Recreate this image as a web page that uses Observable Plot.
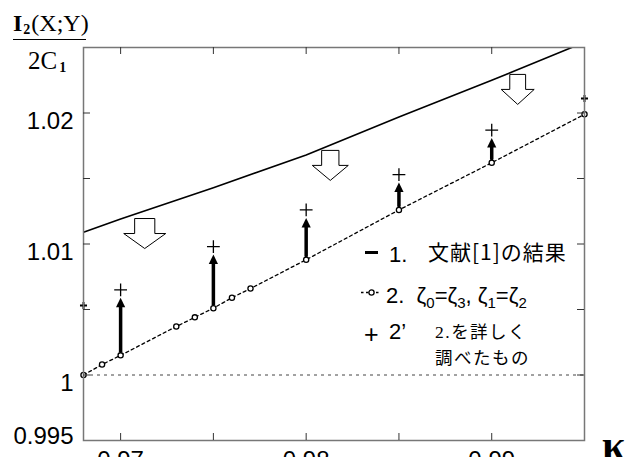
<!DOCTYPE html>
<html><head><meta charset="utf-8">
<script src="https://cdn.jsdelivr.net/npm/d3@7"></script>
<script src="https://cdn.jsdelivr.net/npm/@observablehq/plot@0.6"></script>
<style>
html,body{margin:0;padding:0;background:#fff;overflow:hidden}
#wrap{position:relative;width:628px;height:457px;overflow:hidden}
#wrap svg{position:absolute;left:0;top:0}
.abs{position:absolute;white-space:nowrap;line-height:1}
.sans{font-family:'Liberation Sans',Arial,sans-serif}
.serif{font-family:'Liberation Serif','Times New Roman',serif}
.cjk{font-family:'Noto Sans CJK JP',sans-serif}
</style></head><body><div id="wrap"></div>
<script>
// Series 1: result of reference [1] (solid line)
const refX = [0.968, 0.970, 0.975, 0.980, 0.985, 0.990, 0.995];
const refY = [1.0109, 1.0119, 1.0143, 1.0168, 1.0197, 1.0225, 1.0254];
// Series 2: zeta0=zeta3, zeta1=zeta2 (dotted line with circles)
const eqX = [0.968, 0.969, 0.970, 0.973, 0.974, 0.975, 0.976, 0.977, 0.980, 0.985, 0.990, 0.995];
const eqY = [1.0000, 1.0008, 1.0015, 1.0037, 1.0044, 1.0051, 1.0059, 1.0066, 1.0088, 1.0126, 1.0162, 1.0199];
// Series 2': detailed study (plus marks)
const plusX = [0.968, 0.970, 0.975, 0.980, 0.985, 0.990, 0.995];
const plusY = [1.0053, 1.0065, 1.0098, 1.0126, 1.0153, 1.0187, 1.0211];
// Improvement arrows from series 2 to series 2'
const gainX = [0.970, 0.975, 0.980, 0.985, 0.990];
const gainFrom = [1.0015, 1.0051, 1.0088, 1.0126, 1.0162];
const gainTo = [1.0065, 1.0098, 1.0126, 1.0153, 1.0187];
// Hollow "down" arrows below the series 1 line
const hintX = [0.9713, 0.9813, 0.9914];
const hintY = [1.0108, 1.0160, 1.0218];
const hintR = [21, 18, 16.5];
// Ticks and labels
const xTicks = [0.970, 0.975, 0.980, 0.985, 0.990];
const yTicks = [1.000, 1.005, 1.010, 1.015, 1.020];
const xLabels = [0.97, 0.98, 0.99];
const yLabels = [1, 1.01, 1.02];
const yLabelLow = [0.995];

const ref = refX.map((x, i) => ({x, y: refY[i]}));
const eq = eqX.map((x, i) => ({x, y: eqY[i]}));
const plus = plusX.map((x, i) => ({x, y: plusY[i]}));
const gain = gainX.map((x, i) => ({x, from: gainFrom[i], to: gainTo[i]}));
const hints = hintX.map((x, i) => ({x, y: hintY[i], r: hintR[i]}));

const headSym = {draw(ctx) { ctx.moveTo(0, 0); ctx.lineTo(-4.6, 9.5); ctx.lineTo(4.6, 9.5); ctx.closePath(); }};
const hollowArrow = {draw(ctx, size) {
  const r = Math.sqrt(size / Math.PI), sw = r * 0.48;
  ctx.moveTo(-sw, -15); ctx.lineTo(sw, -15); ctx.lineTo(sw, 0); ctx.lineTo(r, 0);
  ctx.lineTo(0, 15); ctx.lineTo(-r, 0); ctx.lineTo(-sw, 0); ctx.closePath();
}};

const W = 628, H = 457, ML = 83, MR = 44, MT = 47, MB = 17;
const fw = W - ML - MR, fh = H - MT - MB, tk = 7;
const font = "'Liberation Sans', Arial, sans-serif";

const plot = Plot.plot({
  width: W, height: H,
  marginLeft: ML, marginRight: MR, marginTop: MT, marginBottom: MB,
  x: {domain: [0.968, 0.995], axis: null},
  y: {domain: [0.995, 1.025], axis: null},
  style: {fontFamily: font, background: "transparent", overflow: "visible"},
  marks: [
    Plot.ruleY([1], {stroke: "#444", strokeDasharray: "3,4", strokeWidth: 1}),
    Plot.line(ref, {x: "x", y: "y", stroke: "black", strokeWidth: 1.6, clip: true}),
    Plot.line(eq, {x: "x", y: "y", stroke: "black", strokeWidth: 1.3, strokeDasharray: "3,3"}),
    Plot.dot(eq, {x: "x", y: "y", r: 2.6, stroke: "black", fill: "white", strokeWidth: 1.3}),
    Plot.arrow(gain, {x1: "x", x2: "x", y1: "from", y2: "to", headLength: 0, insetStart: 4, insetEnd: 16, strokeWidth: 3.5, stroke: "black"}),
    Plot.dot(gain, {x: "x", y: "to", symbol: headSym, fill: "black", stroke: "none", dy: 8}),
    Plot.dot(plus, {filter: d => d.x > 0.968 && d.x < 0.995, x: "x", y: "y", symbol: "plus", r: 4.2, stroke: "black", strokeWidth: 1.3}),
    Plot.dot(plus, {filter: d => d.x <= 0.968 || d.x >= 0.995, x: "x", y: "y", symbol: "plus", r: 2.4, stroke: "black", strokeWidth: 2}),
    ...hints.map(h => Plot.dot([h], {x: "x", y: "y", r: h.r, symbol: hollowArrow, fill: "white", stroke: "black", strokeWidth: 1})),
    Plot.frame({stroke: "#777", strokeWidth: 1.5}),
    Plot.tickX(xTicks, {x: d => d, insetTop: fh - tk, stroke: "#333"}),
    Plot.tickX(xTicks, {x: d => d, insetBottom: fh - tk, stroke: "#333"}),
    Plot.tickY(yTicks, {y: d => d, insetRight: fw - tk, stroke: "#333"}),
    Plot.tickY(yTicks, {y: d => d, insetLeft: fw - tk, stroke: "#333"}),
    Plot.text(xLabels, {x: d => d, text: d => String(d), frameAnchor: "bottom", lineAnchor: "top", dy: 10, fontSize: 24, fill: "black"}),
    Plot.text(yLabels, {y: d => d, text: d => String(d), frameAnchor: "left", textAnchor: "end", lineAnchor: "top", dx: -10, dy: -1, fontSize: 24, fill: "black"}),
    Plot.text(yLabelLow, {y: d => d, text: d => String(d), frameAnchor: "left", textAnchor: "end", lineAnchor: "bottom", dx: -10, dy: 3.5, fontSize: 24, fill: "black"})
  ]
});

const wrap = document.getElementById("wrap");
wrap.appendChild(plot);

const overlay = document.createElement("div");
overlay.innerHTML = `
<div class="abs serif" style="left:13px;top:11px;font-size:24px;"><b>I</b><b style="font-size:14px;position:relative;top:3px;margin:0 1px">2</b>(X;Y)</div>
<div class="abs" style="left:13px;top:38.5px;width:73px;height:0;border-top:1.6px solid black;"></div>
<div class="abs serif" style="left:28px;top:48px;font-size:25px;">2C<b style="font-size:14px;position:relative;top:3px;margin-left:2px">1</b></div>
<div class="abs serif" style="left:602px;top:424px;font-size:42px;font-weight:bold;">κ</div>

<div class="abs" style="left:365px;top:250.5px;width:13px;height:3px;background:black;"></div>
<div class="abs sans" style="left:389px;top:244px;font-size:22px;">1.</div>
<div class="abs cjk" style="left:428px;top:241px;font-size:21px;letter-spacing:1px;">文献[1]の結果</div>

<svg class="abs" style="left:360px;top:286px;overflow:visible" width="22" height="14">
  <line x1="1" y1="6.5" x2="21" y2="6.5" stroke="black" stroke-width="1.3" stroke-dasharray="2.5,2.5"/>
  <circle cx="11.5" cy="6.5" r="2.6" fill="white" stroke="black" stroke-width="1.3"/>
</svg>
<div class="abs sans" style="left:386px;top:285px;font-size:22px;">2.&nbsp;&nbsp;ζ<span style="font-size:15px;position:relative;top:5px">0</span>=ζ<span style="font-size:15px;position:relative;top:5px">3</span>, ζ<span style="font-size:15px;position:relative;top:5px">1</span>=ζ<span style="font-size:15px;position:relative;top:5px">2</span></div>

<div class="abs sans" style="left:364px;top:322px;font-size:25px;">+</div>
<div class="abs sans" style="left:389px;top:321px;font-size:22px;">2’</div>
<div class="abs cjk" style="left:435px;top:322px;font-size:17.5px;letter-spacing:1.5px;"><span class="serif">2.</span>を詳しく</div>
<div class="abs cjk" style="left:435px;top:347.5px;font-size:17.5px;letter-spacing:1.5px;">調べたもの</div>
`;
wrap.appendChild(overlay);
</script>
</body></html>
